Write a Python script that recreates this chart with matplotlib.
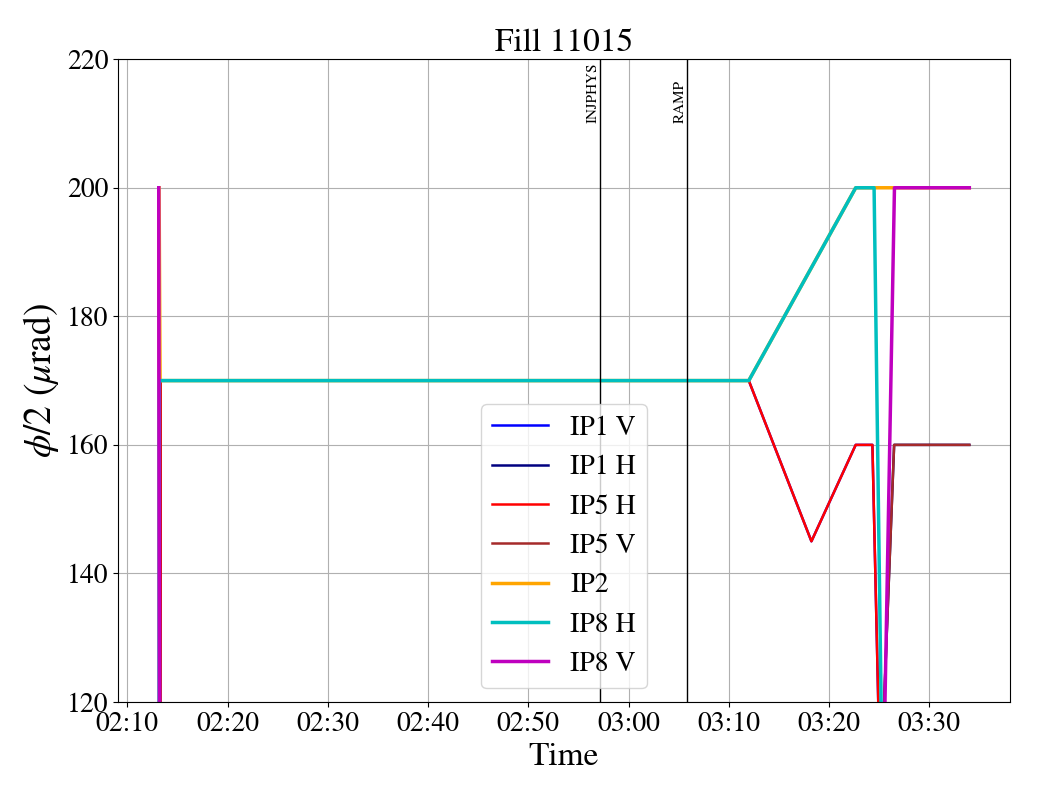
import matplotlib
matplotlib.use("Agg")
import matplotlib.pyplot as plt
import matplotlib.dates as mdates
import pandas as pd

plt.rcParams['font.family'] = 'STIXGeneral'
plt.rcParams['mathtext.fontset'] = 'stix'

day = "2025-08-15 "

# crossing angle half values (urad) vs time, per plane
t_ip1v = ["02:13:08", "02:13:13", "02:13:20", "03:12:00", "03:18:15", "03:22:40", "03:24:20", "03:26:40", "03:34:00"]
v_ip1v = [200, 0, 170, 170, 145, 160, 160, 0, 0]

t_ip1h = ["02:13:08", "03:22:30", "03:26:30", "03:34:00"]
v_ip1h = [0, 0, 160, 160]

t_ip5h = ["02:13:08", "02:13:13", "02:13:20", "03:12:00", "03:18:15", "03:22:40", "03:24:20", "03:26:40", "03:34:00"]
v_ip5h = [200, 0, 170, 170, 145, 160, 160, 0, 0]

t_ip5v = ["02:13:08", "03:22:30", "03:26:30", "03:34:00"]
v_ip5v = [0, 0, 160, 160]

t_ip2 = ["02:13:10", "02:13:16", "03:12:00", "03:22:40", "03:34:00"]
v_ip2 = [200, 170, 170, 200, 200]

t_ip8h = ["02:13:07", "02:13:12", "03:12:00", "03:22:40", "03:24:30", "03:26:15", "03:34:00"]
v_ip8h = [0, 170, 170, 200, 200, 0, 0]

t_ip8v = ["02:13:08", "02:13:18", "03:24:10", "03:26:32", "03:34:00"]
v_ip8v = [200, 0, 0, 200, 200]

modes = ["INJPHYS", "RAMP"]
mode_times = ["02:57:07", "03:05:49"]


def ts(lst):
    return pd.to_datetime([day + s for s in lst])


fig = plt.figure(figsize=(10.4, 8), dpi=100)
ax = fig.add_axes([0.1135, 0.1225, 0.8575, 0.8035])

ax.plot(ts(t_ip1v), v_ip1v, color='blue', lw=1.8, label='IP1 V')
ax.plot(ts(t_ip1h), v_ip1h, color='navy', lw=1.8, label='IP1 H')
ax.plot(ts(t_ip5h), v_ip5h, color='red', lw=1.8, label='IP5 H')
ax.plot(ts(t_ip5v), v_ip5v, color='brown', lw=1.8, label='IP5 V')
ax.plot(ts(t_ip2), v_ip2, color='orange', lw=2.5, label='IP2')
ax.plot(ts(t_ip8h), v_ip8h, color='c', lw=2.5, label='IP8 H')
ax.plot(ts(t_ip8v), v_ip8v, color='m', lw=2.5, label='IP8 V')

for name, tm in zip(modes, ts(mode_times)):
    ax.axvline(tm, color='black', lw=1)
    ax.text(tm, 210, name, rotation=90, ha='right', va='bottom', fontsize=11)

ax.set_ylim(120, 220)
ax.set_yticks([120, 140, 160, 180, 200, 220])
ax.xaxis.set_major_locator(mdates.MinuteLocator(byminute=range(0, 60, 10)))
ax.xaxis.set_major_formatter(mdates.DateFormatter('%H:%M'))
ax.tick_params(labelsize=20)
ax.grid(True)

ax.set_title('Fill 11015', fontsize=24)
ax.set_xlabel('Time', fontsize=24)
ax.set_ylabel(r'$\phi/2$ ($\mu$rad)', fontsize=27)
ax.legend(loc='lower center', fontsize=20)

fig.savefig('out.png')
